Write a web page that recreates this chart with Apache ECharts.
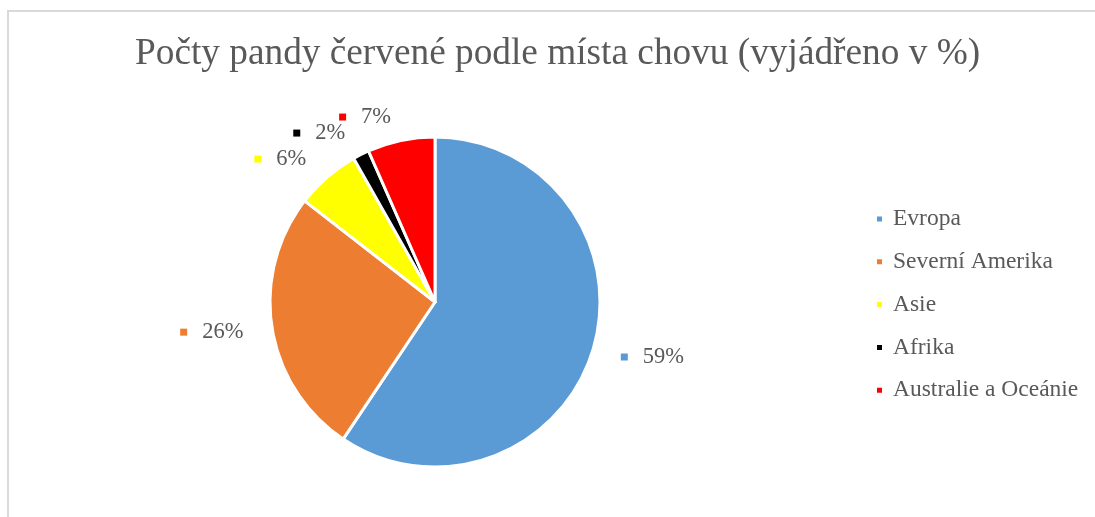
<!DOCTYPE html>
<html lang="cs">
<head>
    <meta charset="UTF-8">
    <title>Počty pandy červené</title>
    <script src="https://cdn.jsdelivr.net/npm/echarts@6/dist/echarts.min.js"></script>
    <style>
        html, body { margin: 0; padding: 0; background: #fff; }
        #chart { width: 1095px; height: 517px; }
    </style>
</head>
<body>
<div id="chart"></div>
<script>
    // data (share of animals, %)
    var regions = ['Evropa', 'Severní Amerika', 'Asie', 'Afrika', 'Australie a Oceánie'];
    var shares = [59.4, 26.1, 6.3, 1.6, 6.6];
    var colors = ['#5B9BD5', '#ED7D31', '#FFFF00', '#000000', '#FF0000'];

    var font = '"Liberation Serif", "Times New Roman", serif';
    var textColor = '#595959';

    var pieData = regions.map(function (name, i) {
        return {
            name: name,
            value: shares[i],
            itemStyle: { color: colors[i] },
            label: {
                rich: {
                    m: { width: 7, height: 7, backgroundColor: colors[i] },
                    t: { fontFamily: font, fontSize: 22.5, color: textColor, padding: [0, 0, 0, 15] }
                }
            }
        };
    });

    var myChart = echarts.init(document.getElementById('chart'));

    var option = {
        backgroundColor: '#fff',
        animation: false,
        title: {
            text: 'Počty pandy červené podle místa chovu (vyjádřeno v %)',
            left: 130,
            top: 31,
            textStyle: {
                fontFamily: font,
                fontSize: 37.3,
                fontWeight: 'normal',
                color: textColor
            }
        },
        legend: {
            orient: 'vertical',
            left: 870,
            top: 202,
            itemWidth: 7,
            itemHeight: 7,
            itemGap: 18.8,
            icon: 'rect',
            data: regions,
            textStyle: {
                fontFamily: font,
                fontSize: 23.5,
                color: textColor,
                padding: [0, 0, 0, 5]
            }
        },
        graphic: [{
            type: 'rect',
            shape: { x: 8, y: 11, width: 1200, height: 600 },
            style: { fill: 'none', stroke: '#d9d9d9', lineWidth: 2 },
            silent: true
        }],
        series: [{
            type: 'pie',
            center: [435, 302],
            radius: 165,
            startAngle: 90,
            clockwise: true,
            avoidLabelOverlap: false,
            itemStyle: { borderColor: '#fff', borderWidth: 3 },
            label: {
                show: true,
                position: 'outside',
                formatter: function (p) {
                    return '{m|}{t|' + Math.round(p.percent) + '%}';
                }
            },
            labelLayout: { hideOverlap: false },
            labelLine: { show: false, length: 24, length2: 0 },
            emphasis: { disabled: true },
            data: pieData
        }]
    };

    myChart.setOption(option);
</script>
</body>
</html>
